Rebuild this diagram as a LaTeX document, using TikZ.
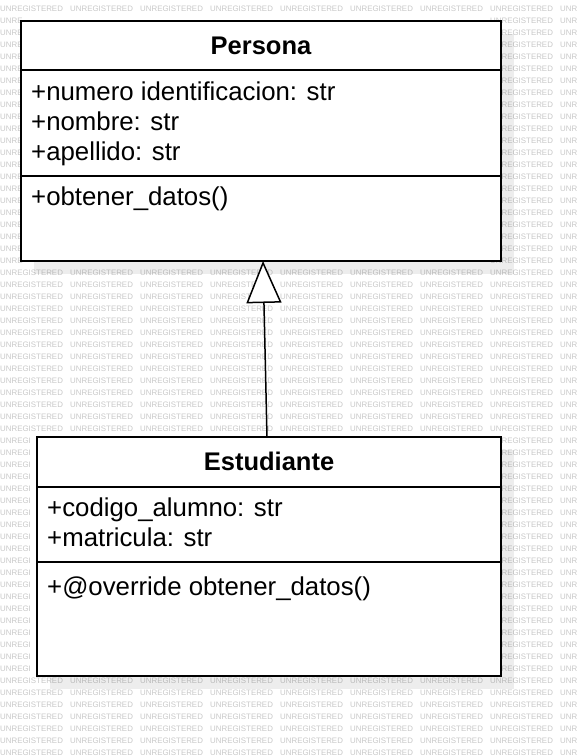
\documentclass[tikz,border=0pt]{standalone}
\usepackage{fontspec}
\setmainfont{Liberation Sans}
\usetikzlibrary{arrows.meta}
\definecolor{wm}{HTML}{C8C8C8}
\tikzset{
  classbox/.style={draw=black, line width=2pt, fill=white, rectangle, inner sep=0pt, anchor=north west},
  shadowbox/.style={fill=black, fill opacity=0.07, draw=none, rectangle, inner sep=0pt, anchor=north west},
  divider/.style={draw=black, line width=2pt},
  title/.style={font=\fontsize{25.5}{30}\selectfont\bfseries, anchor=base, inner sep=0pt},
  member/.style={font=\fontsize{25.8}{30}\selectfont, anchor=base west, inner sep=0pt},
  wmark/.style={font=\fontsize{7.9}{8}\selectfont, text=wm, anchor=west, inner sep=0pt},
  inherit/.style={line width=1.5pt, -{Triangle[open, length=42pt, width=35pt, fill=white, line width=1.5pt]}}
}
\newcommand{\wmrowfull}[1]{%
  \foreach \c in {0,...,7}{\node[wmark] (w-#1-\c) at ({70*\c}, {8.5+12*#1}) {UNREGISTERED};}%
  \node[wmark] (w-#1-8) at (560, {8.5+12*#1}) {UNR};}
\newcommand{\wmrowbox}[2]{%
  \node[wmark] (w-#1-0) at (0, {8.5+12*#1}) {#2};
  \node[wmark] (w-#1-7) at (490, {8.5+12*#1}) {UNREGISTERED};
  \node[wmark] (w-#1-8) at (560, {8.5+12*#1}) {UNR};}
\begin{document}
\begin{tikzpicture}[x=1pt, y=-1pt]
\useasboundingbox (0,0) rectangle (582,756);
% watermark
\wmrowfull{0}
\foreach \r in {1,...,21}{\wmrowbox{\r}{UNRE}}
\foreach \r in {22,...,35}{\wmrowfull{\r}}
\foreach \r in {36,...,55}{\wmrowbox{\r}{UNREGI}}
\foreach \r in {56,...,62}{\wmrowfull{\r}}
% shadows
\node[shadowbox, minimum width=480pt, minimum height=240pt] (sp) at (34,34) {};
\node[shadowbox, minimum width=464pt, minimum height=239pt] (se) at (50,450) {};
% Persona
\node[classbox, minimum width=480pt, minimum height=240pt] (persona) at (20,20) {};
\draw[divider] (persona.west |- 0,70) coordinate (p1l) -- (persona.east |- 0,70) coordinate (p1r);
\draw[divider] (persona.west |- 0,176) coordinate (p2l) -- (persona.east |- 0,176) coordinate (p2r);
\node[title] (ptitle) at (261,54) {Persona};
\node[member] (pa1) at (31,100) {+numero identificacion: str};
\node[member] (pa2) at (31,130) {+nombre: str};
\node[member] (pa3) at (31,160) {+apellido: str};
\node[member] (pm1) at (31,205) {+obtener\_datos()};
% Estudiante
\node[classbox, minimum width=464pt, minimum height=239pt] (estudiante) at (36,436) {};
\draw[divider] (estudiante.west |- 0,487) coordinate (e1l) -- (estudiante.east |- 0,487) coordinate (e1r);
\draw[divider] (estudiante.west |- 0,562) coordinate (e2l) -- (estudiante.east |- 0,562) coordinate (e2r);
\node[title] (etitle) at (269,470) {Estudiante};
\node[member] (ea1) at (47,516) {+codigo\_alumno: str};
\node[member] (ea2) at (47,546) {+matricula: str};
\node[member] (em1) at (47,595) {+@override obtener\_datos()};
% inheritance
\draw[inherit] ([xshift=-2pt, yshift=-1pt]estudiante.north) -- ([xshift=2pt, yshift=1pt]persona.south);
\end{tikzpicture}
\end{document}
